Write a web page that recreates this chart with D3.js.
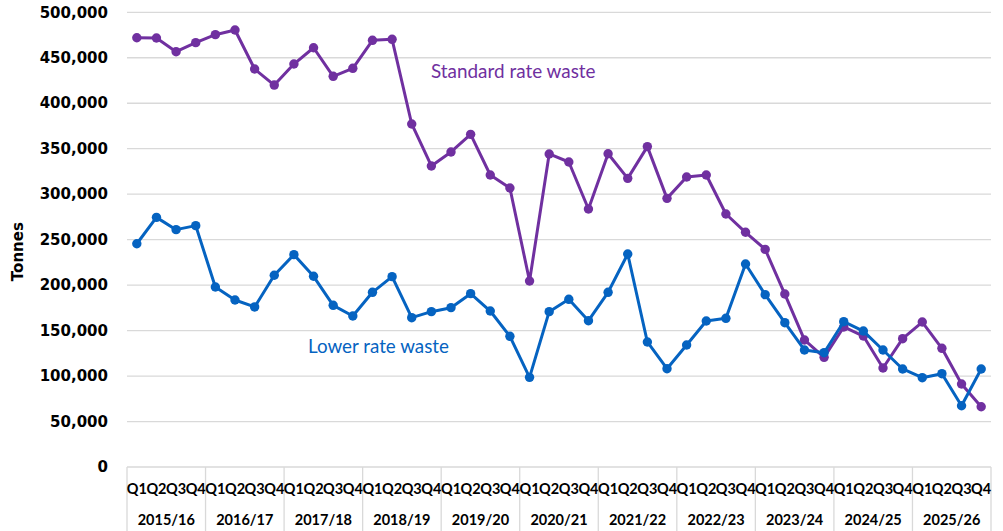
<!DOCTYPE html>
<html>
<head>
<meta charset="utf-8">
<script src="https://cdn.jsdelivr.net/npm/d3@7"></script>
<style>
  body { margin: 0; background: #fff; }
  svg { display: block; }
</style>
</head>
<body>
<svg id="chart" width="1003" height="531"></svg>
<script>
const years = ["2015/16","2016/17","2017/18","2018/19","2019/20","2020/21","2021/22","2022/23","2023/24","2024/25","2025/26"];
const quarters = ["Q1","Q2","Q3","Q4"];
const standardRate = [472000,471700,456700,466600,475400,480500,437600,420000,443100,461000,429600,
  438400,469200,470300,377200,331000,346400,365800,321100,306800,204500,344200,335400,283700,
  344500,317400,352300,295400,318900,321100,278200,258100,239300,190200,139700,120600,154000,
  144000,108900,141100,159400,130500,91300,66300];
const lowerRate = [245500,274500,261000,265400,197900,183600,176000,210800,233500,209700,177800,
  166000,192100,209300,164200,170800,175200,190600,171500,143700,98600,170800,184400,160900,
  192100,234200,137500,108100,134200,160500,163500,223200,189500,158700,128700,125700,159800,
  149500,128700,107800,98200,102600,67400,107800];
const yTicks = [0,50000,100000,150000,200000,250000,300000,350000,400000,450000,500000];
const seriesLabels = ["Standard rate waste","Lower rate waste"];

(function () {
const categories = [];
years.forEach(yr => quarters.forEach(q => categories.push(yr + " " + q)));

const svg = d3.select("#chart");
const pLeft = 127, pRight = 991, pTop = 12.3, pBottom = 467;
const purple = "#7030A0", blue = "#0563C1";

const x = d3.scaleBand().domain(categories).range([pLeft, pRight]);
const y = d3.scaleLinear().domain([0, 500000]).range([pBottom, pTop]);
const xc = d => x(d) + x.bandwidth() / 2;

// gridlines
svg.append("g").selectAll("line").data(yTicks).join("line")
  .attr("x1", pLeft).attr("x2", pRight)
  .attr("y1", d => y(d)).attr("y2", d => y(d))
  .attr("stroke", "#d9d9d9").attr("stroke-width", 1.3);

// y tick labels
svg.append("g").selectAll("text").data(yTicks).join("text")
  .attr("x", 108).attr("y", d => y(d)).attr("dy", "0.35em")
  .attr("text-anchor", "end")
  .attr("font-family", "DejaVu Sans").attr("font-weight", "bold").attr("font-size", 15)
  .attr("fill", "#000")
  .text(d => d3.format(",")(d));

// y axis title
svg.append("text")
  .attr("transform", `translate(23,${(pTop + pBottom) / 2 + 12}) rotate(-90)`)
  .attr("text-anchor", "middle")
  .attr("font-family", "DejaVu Sans").attr("font-weight", "bold").attr("font-size", 15)
  .text("Tonnes");

// x axis dividers
const yearWidth = x.bandwidth() * 4;
const dividers = d3.range(years.length + 1).map(i => pLeft + i * yearWidth);
svg.append("g").selectAll("line").data(dividers).join("line")
  .attr("x1", d => d).attr("x2", d => d)
  .attr("y1", pBottom).attr("y2", 531)
  .attr("stroke", "#d9d9d9").attr("stroke-width", 1.3);

// quarter labels
svg.append("g").selectAll("text").data(categories).join("text")
  .attr("x", d => xc(d)).attr("y", 489).attr("dy", "0.35em")
  .attr("text-anchor", "middle")
  .attr("font-family", "Lato").attr("font-weight", "bold").attr("font-size", 14.5)
  .text(d => d.split(" ")[1]);

// year labels
svg.append("g").selectAll("text").data(years).join("text")
  .attr("x", (d, i) => pLeft + (i + 0.5) * yearWidth).attr("y", 520).attr("dy", "0.35em")
  .attr("text-anchor", "middle")
  .attr("font-family", "Lato").attr("font-weight", "bold").attr("font-size", 14.5)
  .text(d => d);

const line = d3.line().x((d, i) => xc(categories[i])).y(d => y(d));

function drawSeries(data, color) {
  svg.append("path").datum(data)
    .attr("d", line).attr("fill", "none")
    .attr("stroke", color).attr("stroke-width", 3).attr("stroke-linejoin", "round");
  svg.append("g").selectAll("circle").data(data).join("circle")
    .attr("cx", (d, i) => xc(categories[i])).attr("cy", d => y(d))
    .attr("r", 4.7).attr("fill", color);
}
drawSeries(standardRate, purple);
drawSeries(lowerRate, blue);

svg.append("text")
  .attr("x", 431).attr("y", 71).attr("dy", "0.35em")
  .attr("font-family", "Lato").attr("font-size", 18.9).attr("fill", purple)
  .text(seriesLabels[0]);
svg.append("text")
  .attr("x", 308).attr("y", 346).attr("dy", "0.35em")
  .attr("font-family", "Lato").attr("font-size", 18.8).attr("fill", blue)
  .text(seriesLabels[1]);
})();
</script>
</body>
</html>
